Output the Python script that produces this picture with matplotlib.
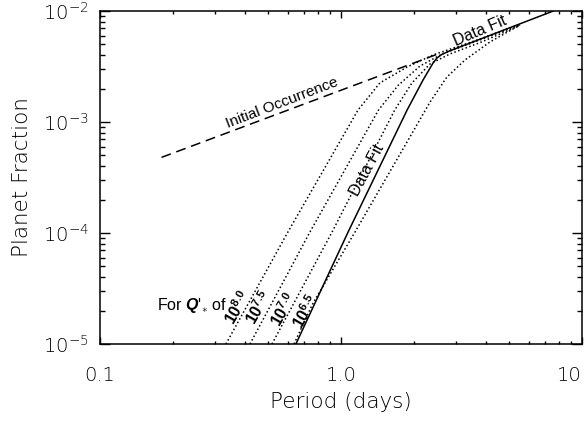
import matplotlib
matplotlib.use("Agg")
import matplotlib.pyplot as plt
from matplotlib.ticker import FixedLocator, FixedFormatter, LogLocator, NullFormatter

plt.rcParams['mathtext.fontset'] = 'custom'
plt.rcParams['mathtext.rm'] = 'Liberation Sans'
plt.rcParams['mathtext.sf'] = 'Liberation Sans:bold'
plt.rcParams['mathtext.bf'] = 'Liberation Sans:bold:italic'
plt.rcParams['mathtext.it'] = 'Liberation Sans:italic'

# ---- data ----
P_init = [0.18, 2.6]
f_init = [4.8e-4, 4.2e-3]

P_fit = [0.65, 1.07, 1.88, 2.19, 2.41, 2.50, 2.62, 2.80, 7.6]
f_fit = [1.0e-5, 1.02e-4, 1.28e-3, 2.39e-3, 3.40e-3, 3.77e-3, 4.06e-3, 4.34e-3, 1.0e-2]

P_q80 = [0.333, 0.602, 1.176, 1.45, 1.88, 2.41, 3.78, 5.53]
f_q80 = [1.0e-5, 1.02e-4, 1.28e-3, 2.25e-3, 3.13e-3, 4.02e-3, 5.6e-3, 7.6e-3]

P_q75 = [0.419, 0.743, 1.43, 1.73, 2.13, 2.63, 3.78, 5.53]
f_q75 = [1.0e-5, 1.02e-4, 1.28e-3, 2.15e-3, 3.2e-3, 4.1e-3, 5.5e-3, 7.5e-3]

P_q70 = [0.517, 0.918, 1.67, 1.97, 2.34, 2.83, 3.78, 5.53]
f_q70 = [1.0e-5, 1.02e-4, 1.28e-3, 2.25e-3, 3.33e-3, 4.1e-3, 5.2e-3, 7.4e-3]

P_q65 = [0.638, 0.766, 1.143, 2.03, 2.34, 2.75, 3.27, 4.15, 5.53]
f_q65 = [1.0e-5, 2.34e-5, 1.02e-4, 8.83e-4, 1.51e-3, 2.54e-3, 3.62e-3, 5.26e-3, 7.48e-3]

q_labels = ["8.0", "7.5", "7.0", "6.5"]

x_ticks = [0.1, 1.0, 10.0]
x_ticklabels = ["0.1", "1.0", "10"]

# ---- figure ----
fig = plt.figure(figsize=(5.85, 4.21), dpi=100)
ax = fig.add_axes([100/585, 1-344/421, 482/585, 333/421])
ax.set_xscale('log')
ax.set_yscale('log')
ax.set_xlim(0.1, 10)
ax.set_ylim(1e-5, 1e-2)

ax.plot(P_init, f_init, color='black', lw=1.1, linestyle=(0, (6.5, 3.8)))
ax.plot(P_fit, f_fit, color='black', lw=1.1, solid_joinstyle='round')
for P, f in [(P_q80, f_q80), (P_q75, f_q75), (P_q70, f_q70), (P_q65, f_q65)]:
    ax.plot(P, f, color='black', lw=1.1, linestyle=(0, (1, 1.6)))

# ---- ticks ----
for s in ax.spines.values():
    s.set_linewidth(1.1)
ax.xaxis.set_major_locator(FixedLocator(x_ticks))
ax.xaxis.set_major_formatter(FixedFormatter(x_ticklabels))
ax.xaxis.set_minor_locator(LogLocator(base=10, subs=range(2, 10)))
ax.xaxis.set_minor_formatter(NullFormatter())
ax.yaxis.set_minor_locator(LogLocator(base=10, subs=range(2, 10)))
ax.yaxis.set_minor_formatter(NullFormatter())
ax.tick_params(axis='both', which='both', direction='in', top=True, right=True, width=1.0)
ax.tick_params(axis='x', which='major', length=4.8, pad=16, labelsize=14)
ax.tick_params(axis='x', which='minor', length=2.4)
ax.tick_params(axis='y', which='major', length=6.9, pad=8, labelsize=14)
ax.tick_params(axis='y', which='minor', length=3.5)
for t in ax.get_xticklabels() + ax.get_yticklabels():
    t.set_fontweight('light')
xl = ax.get_xticklabels()
xl[-1].set_horizontalalignment('right')

ax.set_xlabel('Period (days)', fontsize=15.5, labelpad=5, fontweight='light')
ax.set_ylabel('Planet Fraction', fontsize=15.5, labelpad=8, fontweight='light')

# ---- annotations ----
tk = dict(family='Liberation Sans', ha='center', va='center',
          rotation_mode='anchor', transform=ax.transData)
ax.text(0.569, 1.48e-3, 'Initial Occurrence', rotation=21, fontsize=11, **tk)
ax.text(3.78, 6.6e-3, 'Data Fit', rotation=23, fontsize=11.5, **tk)
ax.text(1.285, 3.7e-4, 'Data Fit', rotation=62, fontsize=11.5, **tk)

ax.text(0.173, 2.02e-5, r"For $\mathbf{Q}\text{'}_{\ast}$ of", family='Liberation Sans',
        fontsize=11.5, ha='left', va='baseline')
q_pos = [(0.372, 2.11e-5), (0.456, 2.11e-5), (0.576, 2.06e-5), (0.712, 1.98e-5)]
for (px, py), q in zip(q_pos, q_labels):
    ax.text(px, py, r"$\mathsf{10}^{\mathsf{%s}}$" % q, fontsize=11.5,
            ha='center', va='center', rotation=60, rotation_mode='anchor')

fig.savefig('out.png', dpi=100)
